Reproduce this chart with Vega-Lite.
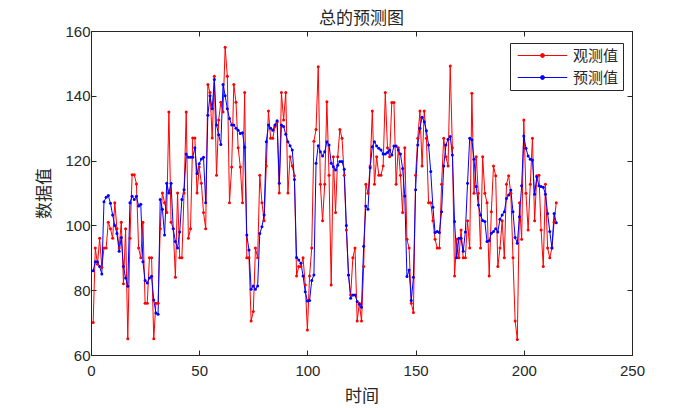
{
  "$schema": "https://vega.github.io/schema/vega-lite/v6.json",
  "width": 541,
  "height": 324,
  "autosize": {"type": "none"},
  "padding": {"left": 91, "top": 31, "right": 68, "bottom": 53},
  "background": "white",
  "title": {"text": "总的预测图", "font": "Noto Sans CJK SC", "fontSize": 17, "fontWeight": "normal", "color": "#262626", "offset": -4, "anchor": "middle"},
  "config": {
    "view": {"stroke": "#262626", "strokeWidth": 1},
    "axis": {"domainColor": "#262626", "tickColor": "#262626", "labelColor": "#262626", "titleColor": "#262626", "grid": false, "labelFont": "Liberation Sans", "labelFontSize": 15, "titleFont": "Noto Sans CJK SC", "titleFontSize": 17, "titleFontWeight": "normal", "tickSize": -5, "labelFlush": false}
  },
  "data": {"values": [
    {"t":1,"观测值":70,"预测值":86},{"t":2,"观测值":93,"预测值":88.8},{"t":3,"观测值":88,"预测值":88.8},{"t":4,"观测值":96,"预测值":87.3},{"t":5,"观测值":87,"预测值":85},
    {"t":6,"观测值":93,"预测值":107.3},{"t":7,"观测值":93,"预测值":108.7},{"t":8,"观测值":101,"预测值":109.2},{"t":9,"观测值":99,"预测值":106.8},{"t":10,"观测值":96,"预测值":103.2},
    {"t":11,"观测值":107,"预测值":100},{"t":12,"观测值":99,"预测值":97.5},{"t":13,"观测值":93,"预测值":92},{"t":14,"观测值":101,"预测值":96.3},{"t":15,"观测值":82,"预测值":87.3},
    {"t":16,"观测值":99,"预测值":83.8},{"t":17,"观测值":65,"预测值":81.2},{"t":18,"观测值":96,"预测值":107},{"t":19,"观测值":115.6,"预测值":109},{"t":20,"观测值":115.6,"预测值":108},
    {"t":21,"观测值":112.8,"预测值":109},{"t":22,"观测值":93,"预测值":106},{"t":23,"观测值":90,"预测值":106.5},{"t":24,"观测值":101,"预测值":88.8},{"t":25,"观测值":76,"预测值":83},
    {"t":26,"观测值":76,"预测值":82.2},{"t":27,"观测值":90,"预测值":83.8},{"t":28,"观测值":90,"预测值":84.3},{"t":29,"观测值":65,"预测值":77},{"t":30,"观测值":76,"预测值":73},
    {"t":31,"观测值":76,"预测值":72.6},{"t":32,"观测值":99,"预测值":108},{"t":33,"观测值":110,"预测值":105},{"t":34,"观测值":107,"预测值":97},{"t":35,"观测值":104,"预测值":113},
    {"t":36,"观测值":135,"预测值":110},{"t":37,"观测值":101,"预测值":113},{"t":38,"观测值":99,"预测值":99},{"t":39,"观测值":84,"预测值":95},{"t":40,"观测值":110,"预测值":93},
    {"t":41,"观测值":90,"预测值":98},{"t":42,"观测值":90,"预测值":108},{"t":43,"观测值":110,"预测值":111},{"t":44,"观测值":135,"预测值":122},{"t":45,"观测值":96,"预测值":121},
    {"t":46,"观测值":99,"预测值":121},{"t":47,"观测值":127,"预测值":121},{"t":48,"观测值":127,"预测值":124},{"t":49,"观测值":110,"预测值":116},{"t":50,"观测值":118,"预测值":119},
    {"t":51,"观测值":113,"预测值":120.5},{"t":52,"观测值":104,"预测值":121},{"t":53,"观测值":99,"预测值":107},{"t":54,"观测值":143.5,"预测值":134},{"t":55,"观测值":141,"预测值":140},
    {"t":56,"观测值":127,"预测值":136},{"t":57,"观测值":146,"预测值":145},{"t":58,"观测值":115.5,"预测值":131},{"t":59,"观测值":132.5,"预测值":128},{"t":60,"观测值":138,"预测值":125},
    {"t":61,"观测值":135,"预测值":143.5},{"t":62,"观测值":155,"预测值":140},{"t":63,"观测值":146,"预测值":136},{"t":64,"观测值":107,"预测值":133},{"t":65,"观测值":118,"预测值":131},
    {"t":66,"观测值":143.5,"预测值":131},{"t":67,"观测值":138,"预测值":130},{"t":68,"观测值":124,"预测值":129.4},{"t":69,"观测值":118,"预测值":128.4},{"t":70,"观测值":107,"预测值":128.6},
    {"t":71,"观测值":141,"预测值":124.1},{"t":72,"观测值":90,"预测值":97},{"t":73,"观测值":90,"预测值":92.4},{"t":74,"观测值":70.5,"预测值":80.3},{"t":75,"观测值":73.4,"预测值":81.3},
    {"t":76,"观测值":93,"预测值":80.3},{"t":77,"观测值":90,"预测值":81.3},{"t":78,"观测值":115.5,"预测值":97.5},{"t":79,"观测值":107,"预测值":99.6},{"t":80,"观测值":101.4,"预测值":103.2},
    {"t":81,"观测值":118.3,"预测值":125.8},{"t":82,"观测值":135.3,"预测值":131},{"t":83,"观测值":126.9,"预测值":130},{"t":84,"观测值":126.9,"预测值":129.4},{"t":85,"观测值":130.5,"预测值":131},
    {"t":86,"观测值":132,"预测值":132.3},{"t":87,"观测值":110,"预测值":113},{"t":88,"观测值":141,"预测值":131},{"t":89,"观测值":132.5,"预测值":130.5},{"t":90,"观测值":141,"预测值":128.1},
    {"t":91,"观测值":110,"预测值":125.8},{"t":92,"观测值":121.2,"预测值":124.6},{"t":93,"观测值":118.3,"预测值":123.3},{"t":94,"观测值":115.3,"预测值":114.2},{"t":95,"观测值":84.4,"预测值":90.1},
    {"t":96,"观测值":87.3,"预测值":89.3},{"t":97,"观测值":87.3,"预测值":88.3},{"t":98,"观测值":90,"预测值":84.4},{"t":99,"观测值":81.6,"预测值":79.5},{"t":100,"观测值":67.7,"预测值":76.7},
    {"t":101,"观测值":84.4,"预测值":76.8},{"t":102,"观测值":93,"预测值":83},{"t":103,"观测值":126,"预测值":84.7},{"t":104,"观测值":129.6,"预测值":119.2},{"t":105,"观测值":149,"预测值":124.6},
    {"t":106,"观测值":112.7,"预测值":122.7},{"t":107,"观测值":101.4,"预测值":121.4},{"t":108,"观测值":112.7,"预测值":122.7},{"t":109,"观测值":138.2,"预测值":125.8},{"t":110,"观测值":115.5,"预测值":124.8},
    {"t":111,"观测值":81.6,"预测值":119.2},{"t":112,"观测值":121.2,"预测值":118.1},{"t":113,"观测值":104,"预测值":117.1},{"t":114,"观测值":121.2,"预测值":118.6},{"t":115,"观测值":129.6,"预测值":119.7},
    {"t":116,"观测值":126.9,"预测值":119.7},{"t":117,"观测值":115.5,"预测值":117.3},{"t":118,"观测值":98.6,"预测值":100},{"t":119,"观测值":84.7,"预测值":84.7},{"t":120,"观测值":78.5,"预测值":77.5},
    {"t":121,"观测值":90,"预测值":78.5},{"t":122,"观测值":93,"预测值":78.5},{"t":123,"观测值":70.5,"预测值":76.5},{"t":124,"观测值":76,"预测值":75.7},{"t":125,"观测值":70.5,"预测值":74.7},
    {"t":126,"观测值":87.3,"预测值":93.6},{"t":127,"观测值":112.7,"预测值":106},{"t":128,"观测值":109.9,"预测值":105},{"t":129,"观测值":118.3,"预测值":117.8},{"t":130,"观测值":135.3,"预测值":124.3},
    {"t":131,"观测值":112.7,"预测值":125.8},{"t":132,"观测值":121.2,"预测值":124.5},{"t":133,"观测值":115.5,"预测值":123.8},{"t":134,"观测值":115.5,"预测值":123.3},{"t":135,"观测值":118.3,"预测值":122},
    {"t":136,"观测值":141,"预测值":122},{"t":137,"观测值":124,"预测值":122.5},{"t":138,"观测值":121.2,"预测值":123.3},{"t":139,"观测值":137.9,"预测值":121.7},{"t":140,"观测值":137.9,"预测值":124.5},
    {"t":141,"观测值":112.7,"预测值":124.5},{"t":142,"观测值":124,"预测值":123.3},{"t":143,"观测值":115.5,"预测值":122},{"t":144,"观测值":104,"预测值":117.6},{"t":145,"观测值":124,"预测值":109.1},
    {"t":146,"观测值":95.7,"预测值":84.2},{"t":147,"观测值":93,"预测值":86.2},{"t":148,"观测值":76,"预测值":76.8},{"t":149,"观测值":73.1,"预测值":84},{"t":150,"观测值":115.5,"预测值":111},
    {"t":151,"观测值":126.9,"预测值":124.8},{"t":152,"观测值":135.3,"预测值":130},{"t":153,"观测值":118.3,"预测值":133.4},{"t":154,"观测值":135.3,"预测值":132},{"t":155,"观测值":126.9,"预测值":129.2},
    {"t":156,"观测值":107,"预测值":124.8},{"t":157,"观测值":107,"预测值":116.6},{"t":158,"观测值":101.4,"预测值":105.6},{"t":159,"观测值":95.7,"预测值":97.8},{"t":160,"观测值":93,"预测值":98.1},
    {"t":161,"观测值":93,"预测值":97.8},{"t":162,"观测值":112.7,"预测值":104.2},{"t":163,"观测值":126.9,"预测值":118.3},{"t":164,"观测值":121.2,"预测值":124.8},{"t":165,"观测值":118.3,"预测值":126.6},
    {"t":166,"观测值":149.2,"预测值":127.4},{"t":167,"观测值":124,"预测值":121.7},{"t":168,"观测值":84.4,"预测值":101.2},{"t":169,"观测值":95.7,"预测值":90},{"t":170,"观测值":90,"预测值":96},
    {"t":171,"观测值":98.6,"预测值":96},{"t":172,"观测值":90,"预测值":92},{"t":173,"观测值":90,"预测值":98},{"t":174,"观测值":101.4,"预测值":113},{"t":175,"观测值":93,"预测值":126.9},
    {"t":176,"观测值":140.8,"预测值":126.4},{"t":177,"观测值":109.9,"预测值":120.4},{"t":178,"观测值":121.2,"预测值":112},{"t":179,"观测值":109.9,"预测值":106.3},{"t":180,"观测值":93,"预测值":103.2},
    {"t":181,"观测值":121.2,"预测值":101.5},{"t":182,"观测值":109.9,"预测值":101.2},{"t":183,"观测值":107,"预测值":95},{"t":184,"观测值":84.4,"预测值":95.3},{"t":185,"观测值":104.2,"预测值":97.6},
    {"t":186,"观测值":118.3,"预测值":98.1},{"t":187,"观测值":115.3,"预测值":99},{"t":188,"观测值":87.3,"预测值":98},{"t":189,"观测值":93,"预测值":101.9},{"t":190,"观测值":101.4,"预测值":103.2},
    {"t":191,"观测值":90,"预测值":104.2},{"t":192,"观测值":112.7,"预测值":108.3},{"t":193,"观测值":115.3,"预测值":109.4},{"t":194,"观测值":109.9,"预测值":110.9},{"t":195,"观测值":90,"预测值":104.2},
    {"t":196,"观测值":70.5,"预测值":96.3},{"t":197,"观测值":64.8,"预测值":94.5},{"t":198,"观测值":107,"预测值":102.7},{"t":199,"观测值":95.7,"预测值":112.2},{"t":200,"观测值":132.5,"预测值":127.6},
    {"t":201,"观测值":109.9,"预测值":123.8},{"t":202,"观测值":98.6,"预测值":121.4},{"t":203,"观测值":112.7,"预测值":120.4},{"t":204,"观测值":126.9,"预测值":120.2},{"t":205,"观测值":101.4,"预测值":109.6},
    {"t":206,"观测值":115.3,"预测值":115},{"t":207,"观测值":115.5,"预测值":112.2},{"t":208,"观测值":98.6,"预测值":112},{"t":209,"观测值":87.3,"预测值":111.8},{"t":210,"观测值":112.7,"预测值":109.6},
    {"t":211,"观测值":93,"预测值":103.7},{"t":212,"观测值":90,"预测值":98.1},{"t":213,"观测值":93,"预测值":93},{"t":214,"观测值":101,"预测值":103.7},{"t":215,"观测值":107,"预测值":100.8}
  ]},
  "transform": [{"fold": ["观测值", "预测值"], "as": ["series", "value"]}],
  "layer": [
    {
      "mark": {"type": "line", "strokeWidth": 1, "point": {"filled": true, "size": 9}},
      "encoding": {
        "x": {"field": "t", "type": "quantitative", "scale": {"domain": [0, 250], "nice": false, "zero": false},
              "axis": {"title": "时间", "values": [0, 50, 100, 150, 200, 250], "labelPadding": 13, "titlePadding": 10}},
        "y": {"field": "value", "type": "quantitative", "scale": {"domain": [60, 160], "nice": false, "zero": false},
              "axis": {"title": "数据值", "values": [60, 80, 100, 120, 140, 160], "labelPadding": 6, "titlePadding": 11}},
        "color": {"field": "series", "type": "nominal",
                  "scale": {"domain": ["观测值", "预测值"], "range": ["#ff0000", "#0000ff"]},
                  "legend": {"title": null, "orient": "none", "legendX": 419, "legendY": 12,
                             "strokeColor": "#262626", "fillColor": "white", "padding": 4,
                             "symbolType": "M-3.1,0H3.1M-0.25,0A0.25,0.25,0,1,1,0.25,0A0.25,0.25,0,1,1,-0.25,0",
                             "symbolSize": 256, "symbolStrokeWidth": 1, "symbolOffset": 20,
                             "labelFont": "Noto Sans CJK SC", "labelFontSize": 15, "labelColor": "#262626",
                             "labelOffset": 22, "rowPadding": 5}}
      }
    },
    {
      "mark": {"type": "line", "opacity": 0},
      "encoding": {
        "x": {"field": "t", "type": "quantitative", "axis": {"orient": "top", "labels": false, "title": null, "values": [0, 50, 100, 150, 200, 250]}},
        "y": {"field": "value", "type": "quantitative", "axis": {"orient": "right", "labels": false, "title": null, "values": [60, 80, 100, 120, 140, 160]}},
        "detail": {"field": "series"}
      }
    }
  ],
  "resolve": {"axis": {"x": "independent", "y": "independent"}}
}
